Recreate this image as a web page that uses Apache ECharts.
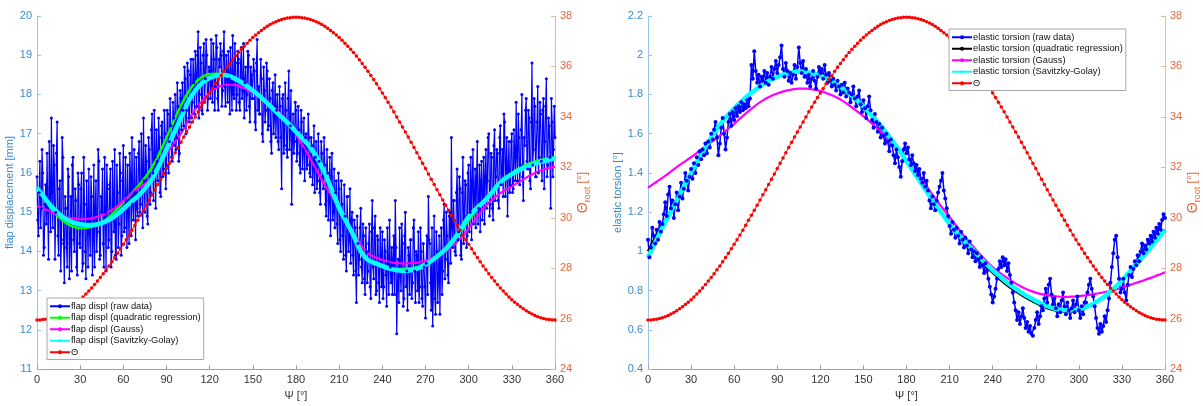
<!DOCTYPE html>
<html>
<head>
<meta charset="utf-8">
<script src="https://cdn.jsdelivr.net/npm/echarts@6/dist/echarts.min.js"></script>
<style>
  html, body { margin: 0; padding: 0; background: #ffffff; }
  #chart { width: 1203px; height: 406px; }
</style>
</head>
<body>
<div id="chart"></div>
<script>
// Sampling steps (degrees of azimuth Psi) for each kind of series
const PSI_STEP_RAW = 1;
const PSI_STEP_FIT = 5;
const PSI_STEP_THETA = 2;

// Flap displacement [mm], raw measurement at whole degrees 0..360
const flapRaw = [
  15.9,14.4,16.3,15.1,16.0,14.1,15.7,16.5,13.8,15.6,
  17.4,14.6,16.2,15.0,17.3,13.9,15.8,14.3,16.4,13.2,
  15.1,13.6,15.9,14.2,13.5,16.4,14.0,15.3,13.4,15.7,
  14.1,16.0,13.7,15.2,13.3,14.9,16.1,13.9,15.4,14.3,
  13.6,15.8,14.5,16.3,13.9,15.0,14.2,16.4,13.5,15.6,
  14.3,16.1,14.0,15.2,16.6,13.8,15.5,14.7,16.0,14.4,
  16.7,14.6,15.3,16.2,14.2,15.9,16.9,14.8,15.5,16.4,
  14.9,16.8,15.2,16.1,17.4,15.0,16.3,14.7,16.6,15.5,
  17.5,15.3,16.4,17.1,15.8,16.9,15.4,17.3,16.1,17.0,
  16.2,17.5,16.8,17.2,16.3,17.4,18.0,16.9,17.7,16.5,
  17.9,18.3,17.2,18.4,17.6,18.6,17.3,18.9,17.8,18.3,
  19.1,17.7,19.6,18.0,18.8,17.5,19.3,18.4,19.0,17.9,
  18.6,19.4,17.8,18.9,18.2,19.2,17.6,18.7,19.0,18.1,
  19.6,17.7,18.6,19.1,17.5,18.3,19.5,17.9,18.8,18.0,
  18.9,17.6,19.2,18.1,17.4,18.7,18.0,19.0,17.3,18.5,
  17.9,18.6,17.1,19.4,18.2,17.5,18.4,16.8,18.1,17.6,
  18.6,17.2,17.9,16.5,18.3,17.4,16.9,18.0,16.6,17.7,
  15.6,18.0,16.7,17.6,16.4,18.6,17.2,15.2,17.5,16.8,
  17.6,16.5,17.1,16.0,17.3,16.6,15.8,17.0,16.2,16.9,
  15.9,16.7,16.1,15.5,16.8,15.8,16.3,15.2,16.5,15.6,
  16.2,14.9,16.0,15.3,14.4,16.5,15.0,14.6,15.8,14.2,
  15.6,14.0,15.2,13.8,14.9,13.5,15.4,14.3,13.7,15.0,
  13.4,14.6,12.7,14.2,13.8,15.1,13.2,14.4,12.9,14.0,
  13.5,14.7,12.8,15.3,13.3,14.9,13.0,14.3,12.7,13.9,
  14.5,13.1,14.0,12.6,13.7,14.8,13.2,12.9,14.4,15.3,
  11.9,13.8,14.6,13.0,14.2,12.8,15.0,13.5,14.1,12.9,
  14.3,13.2,14.8,12.7,13.9,14.5,13.1,14.0,12.6,13.6,
  12.3,14.4,15.4,14.2,12.5,12.1,14.9,12.4,14.0,13.3,
  12.4,14.6,13.5,15.2,13.8,14.4,13.2,15.0,16.9,14.1,
  15.3,13.9,16.1,14.5,15.6,13.8,16.4,14.9,15.7,14.4,
  16.2,15.0,14.3,16.6,15.4,14.6,16.8,15.1,14.5,16.3,
  15.5,14.7,16.6,15.8,17.0,15.2,16.4,14.8,17.1,15.9,
  16.5,15.1,17.2,16.0,15.4,17.3,16.3,14.9,16.8,15.7,
  17.0,15.6,16.5,17.8,15.8,16.9,16.2,18.0,15.3,16.7,
  17.9,16.1,17.4,15.6,18.8,16.6,17.7,15.9,18.2,16.4,
  17.5,15.8,17.9,16.8,18.4,16.2,17.2,15.1,17.3,16.6,16.9
];
// Flap displacement [mm], raw measurement at half degrees 0.5..359.5
const flapRawHalf = [
  14.8,15.5,14.6,16.6,13.9,15.2,14.7,15.0,16.8,14.5,
  15.5,16.7,13.8,16.5,14.4,15.6,13.5,16.9,14.2,15.4,
  14.1,16.1,13.3,15.4,16.2,14.3,15.6,13.6,16.0,14.2,
  15.6,13.5,16.4,14.0,15.8,13.6,14.5,15.9,13.4,16.2,
  15.1,14.0,16.6,13.8,15.4,16.1,13.6,15.0,16.2,14.1,
  15.7,13.6,16.3,14.5,13.9,16.2,14.1,16.5,13.9,15.8,
  14.5,16.4,14.1,15.0,16.5,14.4,15.2,16.6,14.3,15.1,
  16.5,15.0,17.0,14.6,15.8,16.7,14.9,16.9,15.2,17.1,
  16.0,17.6,15.1,16.3,17.4,15.5,17.2,15.9,17.6,15.6,
  17.6,16.0,17.9,16.4,17.8,16.7,16.6,18.3,16.3,18.1,
  17.1,17.6,18.7,17.0,18.8,17.4,18.5,17.4,18.9,17.5,
  18.5,19.0,17.4,19.2,17.6,19.0,17.8,19.4,17.6,18.7,
  17.9,18.2,19.3,17.6,19.5,17.9,18.9,19.3,17.7,19.1,
  18.2,19.0,17.8,18.4,19.2,17.6,18.0,19.3,17.6,19.1,
  17.8,18.8,17.9,19.3,18.3,17.6,19.1,17.7,18.7,17.9,
  18.9,17.3,18.8,17.6,17.5,18.9,17.0,18.7,17.3,18.8,
  17.1,18.4,16.8,18.1,17.0,18.5,17.6,16.8,18.2,16.9,
  17.9,16.5,18.3,16.6,17.9,16.6,18.1,16.9,16.5,17.8,
  16.3,17.7,16.2,17.6,16.1,17.4,16.9,16.1,17.5,16.0,
  16.9,15.7,17.2,16.4,15.6,17.0,15.5,16.8,15.9,16.9,
  15.2,16.6,14.8,16.4,15.9,14.8,16.1,15.5,14.7,16.0,
  14.3,15.8,14.4,15.7,13.9,15.4,14.0,15.6,14.8,13.9,
  14.8,13.5,14.9,13.4,14.6,13.6,14.7,13.3,14.6,13.2,
  14.2,13.1,14.5,13.6,14.6,12.9,14.4,13.2,14.6,13.1,
  12.8,14.3,13.4,14.6,12.9,13.6,14.1,13.8,12.9,14.1,
  13.1,12.7,13.4,14.7,12.6,14.4,13.1,12.5,13.9,14.3,
  12.8,14.6,13.5,14.0,13.0,12.7,14.6,12.8,14.2,13.1,
  13.7,12.9,14.3,13.2,14.6,13.1,12.8,14.5,12.7,14.4,
  13.7,12.9,14.8,13.3,15.0,13.4,14.9,13.7,14.6,15.3,
  14.0,15.5,14.3,15.9,13.9,15.5,14.2,15.8,14.1,16.0,
  14.5,16.4,15.8,14.7,16.1,15.9,14.7,16.2,15.8,14.8,
  16.4,15.9,15.1,16.9,14.9,16.5,15.1,16.7,15.3,16.6,
  15.3,16.9,15.7,16.6,17.5,15.4,16.9,16.1,15.5,16.8,
  15.5,17.1,15.8,16.4,17.5,15.7,17.1,15.9,16.9,17.6,
  16.3,17.6,15.8,17.3,16.2,17.9,15.9,17.3,16.0,17.8,
  16.3,17.6,15.6,17.7,15.9,17.4,16.4,17.9,15.9,17.7
];

// Flap displacement fits [mm], every 5 deg
const flapQuad = [
  15.65,15.35,15.08,14.88,14.73,14.63,14.59,14.60,14.65,14.74,
  14.87,15.05,15.25,15.45,15.65,15.88,16.15,16.50,16.90,17.32,
  17.72,18.05,18.30,18.45,18.52,18.53,18.49,18.42,18.33,18.22,
  18.08,17.93,17.77,17.60,17.43,17.26,17.08,16.90,16.70,16.42,
  16.05,15.62,15.18,14.80,14.42,14.05,13.80,13.68,13.60,13.56,
  13.55,13.55,13.57,13.61,13.68,13.78,13.91,14.07,14.27,14.52,
  14.80,15.04,15.26,15.47,15.68,15.86,16.00,16.12,16.21,16.28,
  16.33,16.37,16.40
];
const flapGauss = [
  15.16,15.08,15.00,14.93,14.87,14.84,14.82,14.83,14.86,14.92,
  15.01,15.13,15.28,15.45,15.60,15.72,15.90,16.18,16.48,16.74,
  17.00,17.32,17.62,17.85,18.05,18.18,18.24,18.25,18.22,18.14,
  18.04,17.92,17.80,17.65,17.48,17.25,16.99,16.68,16.35,16.02,
  15.70,15.40,15.10,14.78,14.47,14.17,13.95,13.85,13.78,13.73,
  13.70,13.69,13.70,13.72,13.76,13.83,13.92,14.02,14.18,14.36,
  14.58,14.83,15.08,15.28,15.43,15.56,15.66,15.77,15.88,15.98,
  16.06,16.12,16.16
];
const flapSG = [
  15.62,15.38,15.15,14.97,14.83,14.74,14.69,14.67,14.68,14.72,
  14.80,14.92,15.08,15.25,15.40,15.60,15.85,16.20,16.60,17.00,
  17.40,17.80,18.10,18.30,18.42,18.48,18.50,18.45,18.36,18.24,
  18.10,17.95,17.78,17.60,17.42,17.25,17.05,16.85,16.65,16.35,
  16.00,15.55,15.10,14.75,14.40,14.00,13.78,13.70,13.63,13.56,
  13.52,13.50,13.52,13.57,13.66,13.78,13.93,14.10,14.32,14.60,
  14.88,15.08,15.25,15.45,15.68,15.85,15.97,16.07,16.15,16.22,
  16.28,16.33,16.37
];

// Elastic torsion [deg], raw measurement, 0..360 deg every 1 deg
const torsionRaw = [
  1.06,0.97,1.02,1.12,1.08,1.04,1.11,1.06,1.15,1.10,
  1.14,1.19,1.25,1.18,1.29,1.33,1.22,1.26,1.17,1.24,
  1.30,1.21,1.28,1.35,1.27,1.32,1.40,1.36,1.31,1.38,
  1.42,1.37,1.45,1.40,1.48,1.44,1.51,1.47,1.52,1.49,
  1.55,1.50,1.56,1.53,1.60,1.57,1.62,1.66,1.58,1.49,
  1.55,1.63,1.68,1.60,1.52,1.58,1.66,1.70,1.64,1.71,
  1.67,1.73,1.69,1.74,1.71,1.76,1.72,1.75,1.73,1.77,
  1.74,1.78,1.95,1.88,2.02,1.92,1.86,1.90,1.84,1.89,
  1.87,1.92,1.86,1.91,1.85,1.89,1.94,1.88,1.93,1.97,
  1.91,1.95,1.99,2.05,1.93,1.89,1.96,1.92,1.87,1.91,
  1.86,1.90,1.95,1.88,1.94,2.04,1.96,1.91,1.97,1.89,
  1.93,1.86,1.90,1.84,1.88,1.92,1.87,1.83,1.89,1.94,
  1.91,1.93,1.88,1.95,1.90,1.86,1.91,1.87,1.84,1.88,
  1.85,1.82,1.87,1.84,1.80,1.85,1.81,1.86,1.79,1.83,
  1.81,1.76,1.80,1.84,1.78,1.74,1.79,1.82,1.75,1.71,
  1.77,1.73,1.68,1.74,1.79,1.72,1.67,1.63,1.70,1.66,
  1.61,1.65,1.58,1.63,1.59,1.55,1.60,1.56,1.51,1.57,
  1.54,1.49,1.45,1.52,1.48,1.43,1.38,1.46,1.52,1.55,
  1.50,1.53,1.47,1.44,1.49,1.45,1.41,1.44,1.39,1.42,
  1.37,1.35,1.40,1.33,1.36,1.31,1.26,1.22,1.28,1.24,
  1.21,1.26,1.30,1.33,1.36,1.40,1.31,1.27,1.22,1.18,
  1.13,1.09,1.15,1.11,1.07,1.12,1.08,1.04,1.10,1.06,
  1.02,1.07,1.03,0.99,1.05,1.01,0.97,1.00,0.95,0.99,
  0.96,0.92,0.97,0.93,0.89,0.94,0.90,0.86,0.82,0.78,
  0.74,0.77,0.81,0.86,0.91,0.95,0.92,0.97,0.93,0.96,
  0.90,0.94,0.88,0.84,0.79,0.74,0.70,0.65,0.69,0.63,
  0.67,0.71,0.66,0.61,0.64,0.59,0.62,0.58,0.57,0.61,
  0.65,0.69,0.63,0.67,0.72,0.70,0.76,0.81,0.74,0.83,
  0.86,0.78,0.73,0.76,0.71,0.67,0.73,0.69,0.75,0.79,
  0.72,0.68,0.74,0.70,0.66,0.71,0.75,0.69,0.73,0.77,
  0.70,0.66,0.72,0.68,0.74,0.74,0.79,0.83,0.86,0.81,
  0.77,0.72,0.66,0.61,0.58,0.63,0.59,0.62,0.67,0.64,
  0.70,0.76,0.84,0.92,0.99,1.06,1.08,0.97,0.86,0.79,
  0.81,0.86,0.79,0.75,0.83,0.88,0.92,0.87,0.91,0.95,
  0.93,0.98,0.95,1.00,1.04,0.99,1.03,1.01,1.06,1.04,
  1.08,1.05,1.10,1.07,1.12,1.09,1.14,1.11,1.16,1.19,1.17
];

// Elastic torsion fits [deg], every 5 deg
const torsionQuad = [
  1.000,1.070,1.135,1.200,1.265,1.332,1.400,1.467,1.530,1.590,
  1.645,1.690,1.730,1.765,1.797,1.825,1.850,1.872,1.890,1.903,
  1.912,1.917,1.915,1.907,1.895,1.880,1.862,1.835,1.805,1.773,
  1.740,1.700,1.660,1.615,1.565,1.515,1.460,1.405,1.350,1.295,
  1.242,1.190,1.140,1.095,1.055,1.015,0.968,0.928,0.892,0.858,
  0.828,0.802,0.778,0.756,0.737,0.720,0.706,0.697,0.693,0.695,
  0.702,0.716,0.733,0.755,0.782,0.815,0.852,0.893,0.935,0.975,
  1.020,1.065,1.110
];
const torsionGauss = [
  1.325,1.350,1.375,1.402,1.430,1.455,1.480,1.507,1.535,1.562,
  1.590,1.620,1.650,1.683,1.715,1.745,1.770,1.790,1.805,1.817,
  1.825,1.830,1.830,1.825,1.818,1.805,1.790,1.770,1.745,1.718,
  1.690,1.658,1.625,1.590,1.550,1.508,1.465,1.418,1.370,1.320,
  1.270,1.222,1.175,1.127,1.080,1.036,0.995,0.956,0.920,0.890,
  0.865,0.841,0.820,0.803,0.790,0.781,0.775,0.770,0.768,0.769,
  0.772,0.776,0.782,0.788,0.795,0.804,0.815,0.827,0.840,0.852,
  0.865,0.879,0.893
];
const torsionSG = [
  0.970,1.045,1.120,1.190,1.260,1.330,1.400,1.467,1.530,1.590,
  1.645,1.690,1.730,1.765,1.797,1.825,1.850,1.872,1.890,1.903,
  1.912,1.917,1.915,1.907,1.895,1.880,1.862,1.835,1.805,1.773,
  1.740,1.700,1.660,1.615,1.565,1.515,1.460,1.405,1.350,1.295,
  1.242,1.190,1.140,1.095,1.055,1.017,0.978,0.940,0.905,0.872,
  0.842,0.815,0.790,0.768,0.748,0.730,0.716,0.705,0.700,0.700,
  0.705,0.716,0.733,0.755,0.782,0.815,0.852,0.893,0.935,0.975,
  1.020,1.065,1.110
];

// Root pitch angle Theta [deg], every 2 deg
const theta = [
  25.95,25.95,25.97,25.98,26.01,26.04,26.08,26.13,26.18,26.24,
  26.31,26.39,26.47,26.56,26.65,26.75,26.86,26.98,27.10,27.22,
  27.35,27.49,27.63,27.78,27.94,28.09,28.26,28.42,28.59,28.77,
  28.95,29.13,29.32,29.51,29.70,29.90,30.10,30.30,30.50,30.70,
  30.91,31.11,31.32,31.53,31.74,31.95,
  32.16,32.37,32.58,32.79,32.99,33.20,33.40,33.60,33.80,34.00,
  34.20,34.39,34.58,34.77,34.95,35.13,35.31,35.48,35.64,35.81,
  35.97,36.12,36.27,36.41,36.55,36.68,36.80,36.92,37.04,37.15,
  37.25,37.34,37.43,37.51,37.59,37.66,37.72,37.77,37.82,37.86,
  37.89,37.92,37.93,37.95,37.95,
  37.95,37.93,37.92,37.89,37.86,37.82,37.77,37.72,37.66,37.59,
  37.51,37.43,37.34,37.25,37.15,37.04,36.92,36.80,36.68,36.55,
  36.41,36.27,36.12,35.97,35.81,35.64,35.48,35.31,35.13,34.95,
  34.77,34.58,34.39,34.20,34.00,33.80,33.60,33.40,33.20,32.99,
  32.79,32.58,32.37,32.16,31.95,
  31.74,31.53,31.32,31.11,30.91,30.70,30.50,30.30,30.10,29.90,
  29.70,29.51,29.32,29.13,28.95,28.77,28.59,28.42,28.26,28.09,
  27.94,27.78,27.63,27.49,27.35,27.22,27.10,26.98,26.86,26.75,
  26.65,26.56,26.47,26.39,26.31,26.24,26.18,26.13,26.08,26.04,
  26.01,25.98,25.97,25.95,25.95
];

// Legend texts
const flapNames = ['flap displ (raw data)', 'flap displ (quadratic regression)',
  'flap displ (Gauss)', 'flap displ (Savitzky-Golay)', 'Θ'];
const torsionNames = ['elastic torsion (raw data)', 'elastic torsion (quadratic regression)',
  'elastic torsion (Gauss)', 'elastic torsion (Savitzky-Golay)', 'Θ'];

const FONT = 'Liberation Sans, Arial, Helvetica, sans-serif';
const BLUE_AX = '#3a8bd0', BLUE_LINE = '#9cc3e6';
const ORANGE_AX = '#e0693a', ORANGE_LINE = '#f0b49a';
const GREY_TXT = '#333333', GREY_LINE = '#a0a0a0';
const PLUS = 'path://M4,0H6V4H10V6H6V10H4V6H0V4H4Z';

function pairs(values, step) {
  return values.map((v, i) => [i * step, v]);
}

// whole-degree and half-degree samples merged in azimuth order
function mergeHalf(whole, half, step) {
  const out = [];
  whole.forEach((v, i) => {
    out.push([i * step, v]);
    if (i < half.length) out.push([i * step + step / 2, half[i]]);
  });
  return out;
}

function xAxisFor(gridIndex) {
  return {
    type: 'value', gridIndex, min: 0, max: 360, interval: 30,
    name: 'Ψ [°]', nameLocation: 'middle', nameGap: 17,
    nameTextStyle: { color: GREY_TXT, fontSize: 11, fontFamily: FONT },
    axisLine: { show: true, onZero: false, lineStyle: { color: GREY_LINE, width: 1 } },
    axisTick: { show: true, inside: true, length: 4, lineStyle: { color: GREY_LINE } },
    axisLabel: { color: GREY_TXT, fontSize: 11, fontFamily: FONT, margin: 5 },
    splitLine: { show: false }
  };
}

function leftAxis(gridIndex, min, max, interval, name, gap) {
  return {
    type: 'value', gridIndex, position: 'left', min, max, interval,
    name, nameLocation: 'middle', nameGap: gap, nameRotate: 90,
    nameTextStyle: { color: BLUE_AX, fontSize: 11, fontFamily: FONT },
    axisLine: { show: true, onZero: false, lineStyle: { color: BLUE_LINE, width: 1 } },
    axisTick: { show: true, inside: true, length: 4, lineStyle: { color: BLUE_LINE } },
    axisLabel: { color: BLUE_AX, fontSize: 11, fontFamily: FONT, margin: 5 },
    splitLine: { show: false }
  };
}

function rightAxis(gridIndex) {
  return {
    type: 'value', gridIndex, position: 'right', min: 24, max: 38, interval: 2,
    name: '{t|Θ}{s|root}{u| [°]}', nameLocation: 'middle', nameGap: 17, nameRotate: 90,
    nameTextStyle: {
      color: ORANGE_AX, fontFamily: FONT,
      rich: {
        t: { fontSize: 14, color: ORANGE_AX, fontFamily: FONT },
        s: { fontSize: 9, color: ORANGE_AX, fontFamily: FONT, padding: [8, 0, 0, 0] },
        u: { fontSize: 12, color: ORANGE_AX, fontFamily: FONT }
      }
    },
    axisLine: { show: true, onZero: false, lineStyle: { color: ORANGE_LINE, width: 1 } },
    axisTick: { show: true, inside: true, length: 4, lineStyle: { color: ORANGE_LINE } },
    axisLabel: { color: ORANGE_AX, fontSize: 11, fontFamily: FONT, margin: 5 },
    splitLine: { show: false }
  };
}

function lineSeries(name, data, xi, yi, color, width, symbol, size, showSymbol, smooth) {
  return {
    type: 'line', name, data, xAxisIndex: xi, yAxisIndex: yi,
    color, symbol, symbolSize: size, showSymbol, showAllSymbol: true,
    smooth: smooth ? 0.3 : false,
    lineStyle: { color, width },
    itemStyle: { color, borderWidth: 0 },
    emphasis: { disabled: true }, silent: true, animation: false, z: 2
  };
}

function panelSeries(names, rawData, quad, gauss, sg, xi, yl, yr, quadColor, rawWidth, rawSize) {
  return [
    lineSeries(names[0], rawData, xi, yl, '#0000ff', rawWidth, 'circle', rawSize, true, false),
    lineSeries(names[1], pairs(quad, PSI_STEP_FIT), xi, yl, quadColor, 2.5, 'circle', 3, false, true),
    lineSeries(names[2], pairs(gauss, PSI_STEP_FIT), xi, yl, '#ff00ff', 2.2, 'circle', 3, false, true),
    lineSeries(names[3], pairs(sg, PSI_STEP_FIT), xi, yl, '#00ffff', 4.5, PLUS, 6, false, true),
    lineSeries(names[4], pairs(theta, PSI_STEP_THETA), xi, yr, '#ff0000', 1, 'circle', 3.5, true, false)
  ];
}

function legendFor(names, left, top, fontSize) {
  return {
    data: names, orient: 'vertical', left, top,
    backgroundColor: '#ffffff', borderColor: '#a8a8a8', borderWidth: 1,
    padding: [3, 3, 2, 2], itemGap: 1, itemWidth: 20, itemHeight: 5,
    textStyle: { color: '#111111', fontSize, fontFamily: FONT, padding: [0, 0, 0, -4], lineHeight: 10.5 },
    selectedMode: false
  };
}

const chart = echarts.init(document.getElementById('chart'), null, { renderer: 'canvas' });
chart.setOption({
  animation: false,
  backgroundColor: '#ffffff',
  textStyle: { fontFamily: FONT },
  grid: [
    { left: 37, top: 16, width: 518, height: 356 },
    { left: 648, top: 16, width: 517, height: 356 }
  ],
  legend: [
    legendFor(flapNames, 47, 298, 9.3),
    legendFor(torsionNames, 949, 29, 9.3)
  ],
  xAxis: [xAxisFor(0), xAxisFor(1)],
  yAxis: [
    leftAxis(0, 11, 20, 1, 'flap displacement [mm]', 11),
    rightAxis(0),
    leftAxis(1, 0.4, 2.2, 0.2, 'elastic torsion [°]', 15),
    rightAxis(1)
  ],
  series: [
    ...panelSeries(flapNames, mergeHalf(flapRaw, flapRawHalf, PSI_STEP_RAW),
      flapQuad, flapGauss, flapSG, 0, 0, 1, '#00ff00', 1.2, 3),
    ...panelSeries(torsionNames, pairs(torsionRaw, PSI_STEP_RAW),
      torsionQuad, torsionGauss, torsionSG, 1, 2, 3, '#000000', 1.5, 4)
  ]
});
</script>
</body>
</html>
